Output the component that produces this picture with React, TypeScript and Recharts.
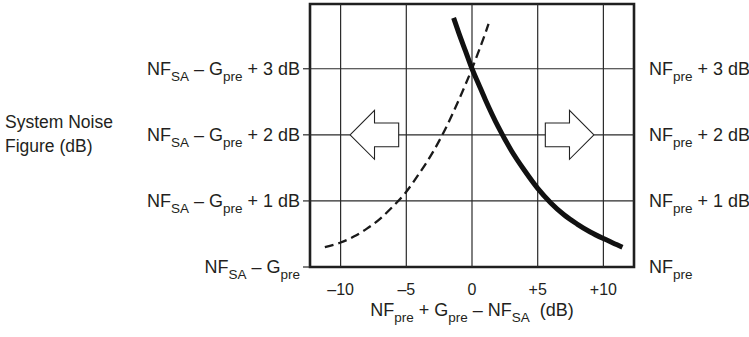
import React from 'react';
import { LineChart, Line, XAxis, YAxis, ReferenceLine, ReferenceArea } from 'recharts';

// ---- data ----
const xTicks = [-10, -5, 0, 5, 10];
const xTickLabels = ['–10', '–5', '0', '+5', '+10'];
const yTicks = [0, 1, 2, 3];
const ySuffixes = ['', ' + 1 dB', ' + 2 dB', ' + 3 dB'];

// solid curve: system NF referenced to NF_pre (right axis)
const solidX = [-1.4, -1, -0.5, 0, 0.5, 1, 2, 3, 4, 5, 6, 7, 8, 9, 10, 11, 11.45];
const solidY = [3.77, 3.54, 3.27, 3.0, 2.77, 2.54, 2.12, 1.76, 1.46, 1.19, 0.97, 0.79, 0.65, 0.53, 0.43, 0.34, 0.3];

// dashed curve: system NF referenced to NF_SA - G_pre (left axis)
const dashX = [-11.2, -10, -9, -8, -7, -6, -5, -4, -3, -2, -1, -0.5, 0, 0.5, 1, 1.26];
const dashY = [0.3, 0.37, 0.46, 0.58, 0.73, 0.92, 1.14, 1.42, 1.73, 2.1, 2.53, 2.76, 3.0, 3.26, 3.53, 3.68];

// arrow outlines (data coordinates)
const leftArrowX = [-9.28, -7.42, -7.42, -5.58, -5.58, -7.42, -7.42, -9.28];
const leftArrowY = [2, 2.37, 2.18, 2.18, 1.82, 1.82, 1.63, 2];
const rightArrowX = [9.28, 7.42, 7.42, 5.58, 5.58, 7.42, 7.42, 9.28];
const rightArrowY = [2, 2.37, 2.18, 2.18, 1.82, 1.82, 1.63, 2];

const xDomain = [-12.33, 12.33];
const yDomain = [0, 3.98];
const midGridSegments = [
  [-12.33, -9.28],
  [-5.58, 5.58],
  [9.28, 12.33],
];

const zip = (xs: number[], ys: number[]) => xs.map((x, i) => ({ x, y: ys[i] }));
const solidData = zip(solidX, solidY);
const dashData = zip(dashX, dashY);
const leftArrow = zip(leftArrowX, leftArrowY);
const rightArrow = zip(rightArrowX, rightArrowY);

const FONT = '"Liberation Sans", Arial, sans-serif';
const INK = '#231f20';
const MAIN = 18;
const SUB = 13.5;
const SUBDY = 6;

const LeftTick = (props: any) => {
  const { x, y, payload } = props;
  const idx = yTicks.indexOf(payload.value);
  return (
    <text x={x} y={y} dy={6} textAnchor="end" fontFamily={FONT} fontSize={MAIN} fill={INK} style={{ whiteSpace: 'pre' }}>
      NF<tspan fontSize={SUB} dy={SUBDY}>SA</tspan>
      <tspan dy={-SUBDY}>{' – G'}</tspan>
      <tspan fontSize={SUB} dy={SUBDY}>pre</tspan>
      <tspan dy={-SUBDY}>{ySuffixes[idx]}</tspan>
    </text>
  );
};

const RightTick = (props: any) => {
  const { x, y, payload } = props;
  const idx = yTicks.indexOf(payload.value);
  return (
    <text x={x} y={y} dy={6} textAnchor="start" fontFamily={FONT} fontSize={MAIN} fill={INK} style={{ whiteSpace: 'pre' }}>
      NF<tspan fontSize={SUB} dy={SUBDY}>pre</tspan>
      <tspan dy={-SUBDY}>{ySuffixes[idx]}</tspan>
    </text>
  );
};

const XTick = (props: any) => {
  const { x, y, payload } = props;
  const idx = xTicks.indexOf(payload.value);
  return (
    <text x={x} y={y} dy={6} textAnchor="middle" fontFamily={FONT} fontSize={16} fill={INK}>
      {xTickLabels[idx]}
    </text>
  );
};

const XTitle = (props: any) => {
  const vb = props.viewBox || {};
  const cx = vb.x + vb.width / 2;
  return (
    <text x={cx} y={vb.y + 49} textAnchor="middle" fontFamily={FONT} fontSize={MAIN} fill={INK} style={{ whiteSpace: 'pre' }}>
      NF<tspan fontSize={SUB} dy={SUBDY}>pre</tspan>
      <tspan dy={-SUBDY}>{' + G'}</tspan>
      <tspan fontSize={SUB} dy={SUBDY}>pre</tspan>
      <tspan dy={-SUBDY}>{' – NF'}</tspan>
      <tspan fontSize={SUB} dy={SUBDY}>SA</tspan>
      <tspan dy={-SUBDY}>{'  (dB)'}</tspan>
    </text>
  );
};

const YTitle = () => (
  <text fontFamily={FONT} fontSize={17.5} fill={INK}>
    <tspan x={5} y={128}>System Noise</tspan>
    <tspan x={5} y={152}>Figure (dB)</tspan>
  </text>
);

const GRID = '#2a2a2a';

export default function App() {
  return (
    <div style={{ position: 'absolute', left: 0, top: 0, width: 749, height: 337, background: '#fff' }}>
      <LineChart width={749} height={337} margin={{ top: 4, right: 0, bottom: 0, left: 0 }}>
        <XAxis
          dataKey="x"
          type="number"
          domain={xDomain}
          ticks={xTicks}
          allowDataOverflow
          axisLine={false}
          tickLine={false}
          tickSize={0}
          tickMargin={22}
          tick={<XTick />}
          height={70}
          label={<XTitle />}
        />
        <YAxis
          yAxisId="left"
          type="number"
          domain={yDomain}
          ticks={yTicks}
          allowDataOverflow
          width={310}
          axisLine={false}
          tickLine={{ stroke: GRID, strokeWidth: 1.2 }}
          tickSize={7}
          tickMargin={3}
          tick={<LeftTick />}
          label={<YTitle />}
        />
        <YAxis
          yAxisId="right"
          orientation="right"
          type="number"
          domain={yDomain}
          ticks={yTicks}
          allowDataOverflow
          width={115}
          axisLine={false}
          tickLine={false}
          tickSize={0}
          tickMargin={15}
          tick={<RightTick />}
        />
        {xTicks.map((v) => (
          <ReferenceLine key={'vx' + v} yAxisId="left" x={v} stroke={GRID} strokeWidth={1.2} />
        ))}
        <ReferenceLine yAxisId="left" y={1} stroke={GRID} strokeWidth={1.2} />
        <ReferenceLine yAxisId="left" y={3} stroke={GRID} strokeWidth={1.2} />
        {midGridSegments.map((s, i) => (
          <ReferenceLine
            key={'seg' + i}
            yAxisId="left"
            segment={[{ x: s[0], y: 2 }, { x: s[1], y: 2 }]}
            stroke={GRID}
            strokeWidth={1.2}
          />
        ))}
        <ReferenceArea
          yAxisId="left"
          x1={xDomain[0]}
          x2={xDomain[1]}
          y1={yDomain[0]}
          y2={yDomain[1]}
          fill="none"
          fillOpacity={0}
          stroke="#1f1f1f"
          strokeWidth={2.6}
        />
        <Line
          yAxisId="left"
          data={leftArrow}
          dataKey="y"
          type="linear"
          stroke="#222"
          strokeWidth={1.1}
          strokeLinejoin="miter"
          dot={false}
          isAnimationActive={false}
        />
        <Line
          yAxisId="left"
          data={rightArrow}
          dataKey="y"
          type="linear"
          stroke="#222"
          strokeWidth={1.1}
          strokeLinejoin="miter"
          dot={false}
          isAnimationActive={false}
        />
        <Line
          yAxisId="left"
          data={dashData}
          dataKey="y"
          type="monotone"
          stroke="#1a1a1a"
          strokeWidth={2.3}
          strokeDasharray="9 5"
          dot={false}
          isAnimationActive={false}
        />
        <Line
          yAxisId="right"
          data={solidData}
          dataKey="y"
          type="monotone"
          stroke="#111"
          strokeWidth={5}
          dot={false}
          isAnimationActive={false}
        />
      </LineChart>
    </div>
  );
}
